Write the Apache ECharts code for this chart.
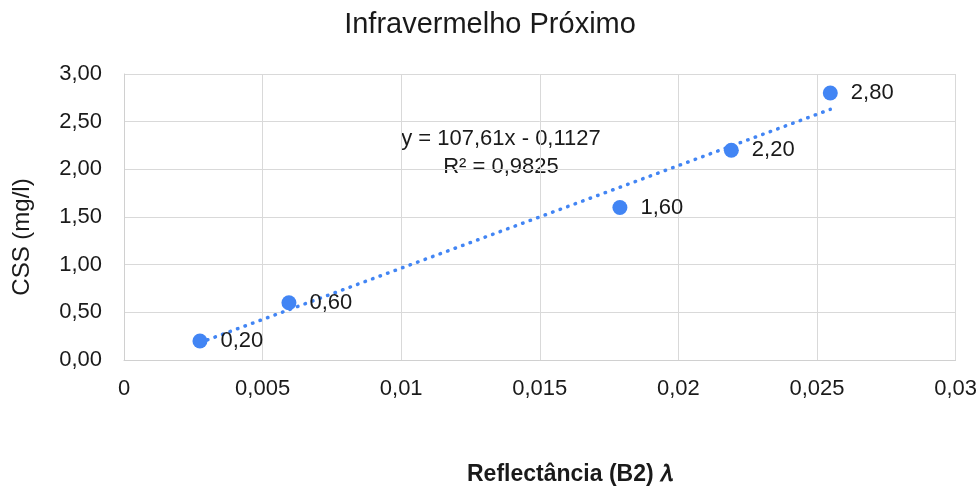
<!DOCTYPE html>
<html><head><meta charset="utf-8">
<script src="https://cdn.jsdelivr.net/npm/echarts@6/dist/echarts.min.js"></script>
<style>html,body{margin:0;padding:0;background:#fff}#c{width:980px;height:490px}</style>
</head><body><div id="c"></div>
<script>
const reflectance = [0.00274, 0.00595, 0.01789, 0.02191, 0.02548];
const css = [0.20, 0.60, 1.60, 2.20, 2.80];
const trendX = [0.00274, 0.02548];
const trendY = [0.182, 2.629];
const equationLines = ['y = 107,61x - 0,1127', 'R² = 0,9825'];
const titleText = 'Infravermelho Próximo';
const xName = 'Reflectância (B2) 𝜆';
const yName = 'CSS (mg/l)';

const FONT = '"Liberation Sans", Arial, sans-serif';
const BLUE = '#4285F4';
const TXT = '#1a1a1a';
const chart = echarts.init(document.getElementById('c'));
const fmtComma = (v, d) => (d == null ? String(parseFloat(v.toFixed(4))) : v.toFixed(d)).replace('.', ',');

chart.setOption({
  backgroundColor: '#fff',
  animation: false,
  title: [
    { text: titleText, left: 'center', top: 5, textStyle: { fontFamily: FONT, fontSize: 29, fontWeight: 'normal', color: TXT } }
  ],
  grid: { left: 124, right: 24, top: 74, bottom: 130 },
  xAxis: {
    type: 'value', min: 0, max: 0.03, interval: 0.005,
    axisLine: { show: true, lineStyle: { color: '#d0d0d0', width: 1 } },
    axisTick: { show: false },
    splitLine: { show: true, lineStyle: { color: '#d9d9d9', width: 1 } },
    axisLabel: { fontFamily: FONT, fontSize: 22, color: TXT, margin: 18, formatter: v => fmtComma(v) }
  },
  yAxis: {
    type: 'value', min: 0, max: 3, interval: 0.5,
    axisLine: { show: true, lineStyle: { color: '#d0d0d0', width: 1 } },
    axisTick: { show: false },
    splitLine: { show: true, lineStyle: { color: '#d9d9d9', width: 1 } },
    axisLabel: { fontFamily: FONT, fontSize: 22, color: TXT, margin: 22, formatter: v => fmtComma(v, 2) }
  },
  graphic: [
    { type: 'text', x: 501, y: 139, style: { text: equationLines[0], font: '22px ' + FONT, fill: TXT, textAlign: 'center', textVerticalAlign: 'middle' } },
    { type: 'text', x: 501, y: 167, style: { text: equationLines[1], font: '22px ' + FONT, fill: TXT, textAlign: 'center', textVerticalAlign: 'middle' } },
    { type: 'text', x: 570, y: 475, style: { text: xName, font: 'bold 23px ' + FONT, fill: TXT, textAlign: 'center', textVerticalAlign: 'middle' } },
    { type: 'text', x: 22, y: 237, rotation: Math.PI / 2, style: { text: yName, font: '24px ' + FONT, fill: TXT, textAlign: 'center', textVerticalAlign: 'middle' } }
  ],
  series: [
    {
      type: 'line', data: trendX.map((x, i) => [x, trendY[i]]),
      symbol: 'none', lineStyle: { color: BLUE, width: 3.5, type: [0.5, 7.5], cap: 'round' }, z: 2, silent: true
    },
    {
      type: 'scatter', data: reflectance.map((x, i) => [x, css[i]]),
      symbolSize: 15, itemStyle: { color: BLUE, opacity: 1 },
      label: { show: true, position: 'right', distance: 13, fontFamily: FONT, fontSize: 22, color: TXT,
        formatter: p => fmtComma(p.value[1], 2) },
      z: 3
    }
  ]
});
</script></body></html>
